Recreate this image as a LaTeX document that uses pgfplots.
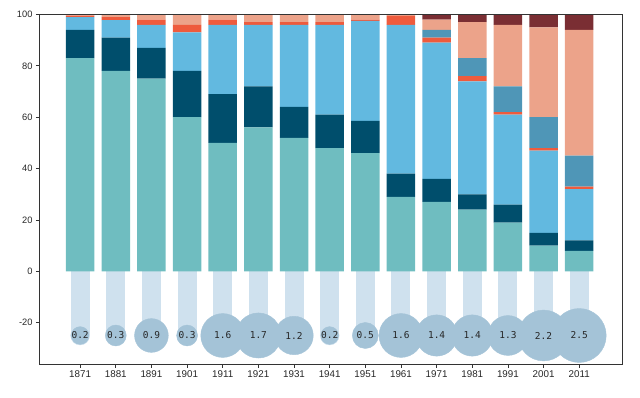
\documentclass[border=0pt]{standalone}
\usepackage{fontspec}
\setmainfont{Liberation Sans}
\newfontfamily\monof{DejaVu Sans Mono}
\usepackage{pgfplots}
\pgfplotsset{compat=1.18}
\usepackage{pgfplotstable}

\definecolor{cteal}{RGB}{111,189,192}
\definecolor{cnavy}{RGB}{0,78,108}
\definecolor{clb}{RGB}{98,185,224}
\definecolor{cred}{RGB}{238,91,61}
\definecolor{csteel}{RGB}{79,150,183}
\definecolor{csalmon}{RGB}{236,163,138}
\definecolor{cmaroon}{RGB}{122,46,51}
\definecolor{clow}{RGB}{207,225,238}
\definecolor{ccirc}{RGB}{164,195,215}

\pgfplotstableread{
x teal navy lb red steel salmon maroon v lo
0 83 11 5 0.6 0 0.4 0 0.2 -25
1 78 13 6.8 1.2 0 1 0 0.3 -25
2 75 12 9 2 0 2 0 0.9 -25
3 60 18 15 3 0 4 0 0.3 -25
4 50 19 27 2 0 2 0 1.6 -25
5 56 16 24 1 0 3 0 1.7 -25
6 52 12 32 1 0 3 0 1.2 -25
7 48 13 35 1 0 3 0 0.2 -25
8 46 12.6 38.9 0.5 0 2 0 0.5 -25
9 29 9 58 3.5 0 0.5 0 1.6 -25
10 27 9 53 2 3 4 2 1.4 -25
11 24 6 44 2 7 14 3 1.4 -25
12 19 7 35 1 10 24 4 1.3 -25
13 10 5 32 1 12 35 5 2.2 -25
14 8 4 20 1 12 49 6 2.5 -25
}\data

\pgfplotsset{
  common/.style={
    scale only axis, width=583.2pt, height=349.5pt,
    at={(0,0)}, anchor=south west,
    xmin=-1.14, xmax=15.22, ymin=-36.1, ymax=100,
  }
}

\begin{document}
\begin{tikzpicture}
\begin{axis}[common, hide axis, clip=false]
  \addplot[ycomb, line width=19pt, color=clow, mark=none] table[x=x, y=lo]{\data};
  \addplot[only marks, mark=*, mark size=9.5pt, color=clow] table[x=x, y=lo]{\data};
  \addplot[scatter, only marks, mark=*,
    scatter/use mapped color={draw=ccirc, fill=ccirc},
    visualization depends on={16*sqrt(\thisrow{v})+1.7 \as \rad},
    scatter/@pre marker code/.append style={/tikz/mark size=\rad pt}] table[x=x, y=lo]{\data};
  \addplot[only marks, mark=none, point meta=explicit symbolic,
    nodes near coords={\monof\pgfplotspointmeta},
    every node near coord/.append style={anchor=center, font=\fontsize{9.5}{10}\selectfont, text=black!85}]
    table[x=x, y=lo, meta=v]{\data};
\end{axis}
\begin{axis}[common, name=ax,
  ybar stacked, bar width=0.8,
  axis line style={black!80, line width=0.8pt},
  xtick={0,...,14},
  xticklabels={1871,1881,1891,1901,1911,1921,1931,1941,1951,1961,1971,1981,1991,2001,2011},
  ytick={-20,0,20,40,60,80,100},
  tick align=outside, xtick pos=bottom, ytick pos=left,
  major tick length=3.5pt,
  tick style={black!80, line width=0.8pt},
  xticklabel style={font=\fontsize{9.8}{11}\selectfont, text=black!85},
  yticklabel style={font=\fontsize{9.3}{11}\selectfont, text=black!85},
  /pgf/number format/assume math mode=true,
  axis on top,
]
  \addplot[fill=cteal, draw=none] table[x=x, y=teal]{\data};
  \addplot[fill=cnavy, draw=none] table[x=x, y=navy]{\data};
  \addplot[fill=clb, draw=none] table[x=x, y=lb]{\data};
  \addplot[fill=cred, draw=none] table[x=x, y=red]{\data};
  \addplot[fill=csteel, draw=none] table[x=x, y=steel]{\data};
  \addplot[fill=csalmon, draw=none] table[x=x, y=salmon]{\data};
  \addplot[fill=cmaroon, draw=none] table[x=x, y=maroon]{\data};
\end{axis}
\pgfresetboundingbox
\path[use as bounding box] ([xshift=-39.5pt,yshift=-33pt]ax.south west) rectangle ([xshift=17.3pt,yshift=14.5pt]ax.north east);
\end{tikzpicture}
\end{document}
